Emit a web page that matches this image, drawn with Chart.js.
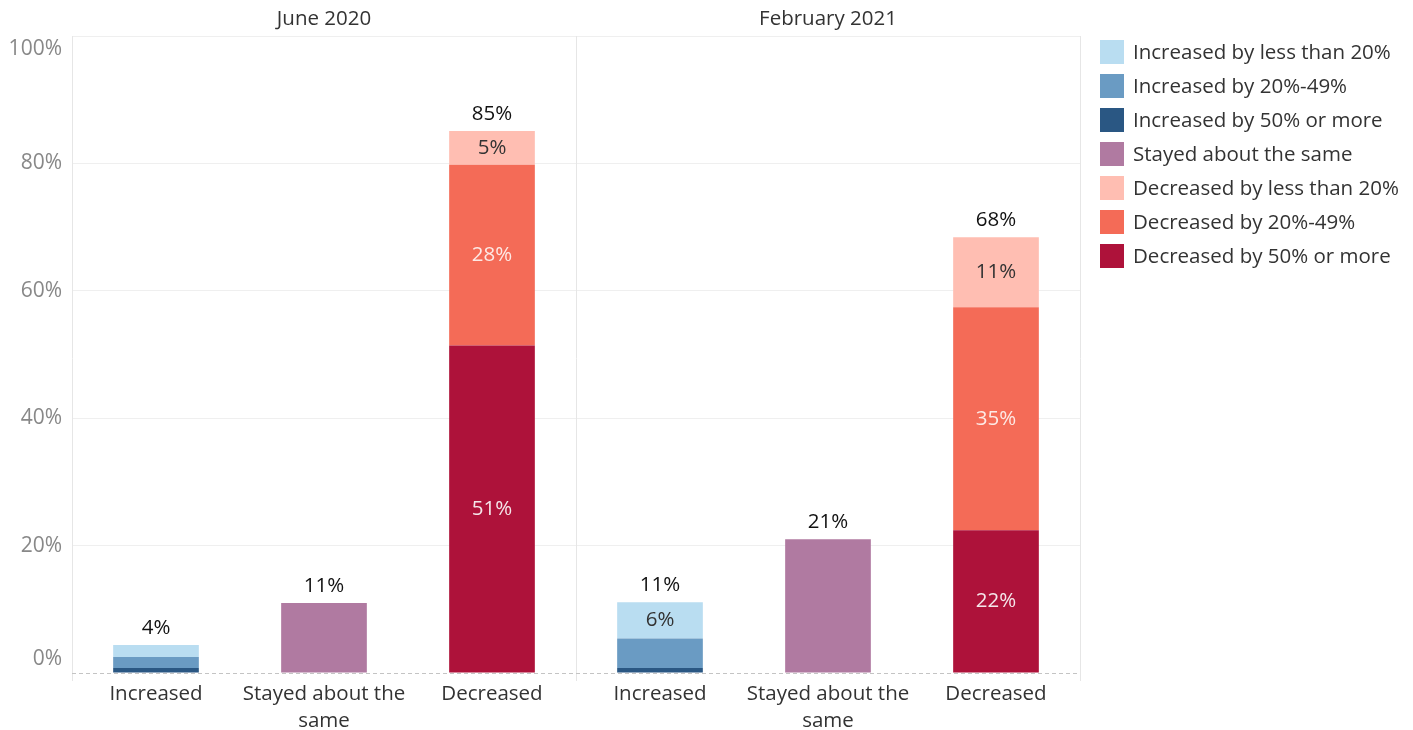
<!DOCTYPE html>
<html>
<head>
<meta charset="utf-8">
<script src="https://cdn.jsdelivr.net/npm/chart.js@4.4.0/dist/chart.umd.min.js"></script>
<style>
  html, body { margin: 0; padding: 0; background: #fff; }
  #wrap { width: 1413px; height: 730px; }
</style>
</head>
<body>
<div id="wrap"><canvas id="grafica" width="1413" height="730"></canvas></div>
<script>
// datos
const periodos = ['June 2020', 'February 2021'];
const categorias = ['Increased', ['Stayed about the', 'same'], 'Decreased',
                    'Increased', ['Stayed about the', 'same'], 'Decreased'];
const yTicks = [0, 20, 40, 60, 80, 100];

const inc50     = [0.8, null, null, 0.8, null, null];
const inc20a49  = [1.7, null, null, 4.6, null, null];
const incMen20  = [1.9, null, null, 5.7, null, null];
const igual     = [null, 11.0, null, null, 21.0, null];
const dec50     = [null, null, 51.4, null, null, 22.4];
const dec20a49  = [null, null, 28.4, null, null, 35.0];
const decMen20  = [null, null, 5.3, null, null, 11.0];

const FONT = '"Open Sans", Lato, sans-serif';

// orden de apilado (abajo -> arriba)
const series = [
    { label: 'Increased by 50% or more',    data: inc50,    color: '#2a5783', txt: '#ffffff' },
    { label: 'Increased by 20%-49%',        data: inc20a49, color: '#6a9bc3', txt: '#ffffff' },
    { label: 'Increased by less than 20%',  data: incMen20, color: '#b9ddf1', txt: '#333333' },
    { label: 'Stayed about the same',       data: igual,    color: '#b07aa1', txt: '#ffffff' },
    { label: 'Decreased by 50% or more',    data: dec50,    color: '#ae123a', txt: '#f5e6ea' },
    { label: 'Decreased by 20%-49%',        data: dec20a49, color: '#f46b57', txt: '#fde9e5' },
    { label: 'Decreased by less than 20%',  data: decMen20, color: '#ffbeb2', txt: '#333333' }
];
// orden de la leyenda
const ordenLeyenda = [2, 1, 0, 3, 6, 5, 4];

const panelPlugin = {
    id: 'paneles',
    afterDraw(chart) {
        const { ctx, chartArea: a, scales: { x, y } } = chart;
        ctx.save();

        // lineas de panel
        ctx.strokeStyle = '#e6e6e6';
        ctx.lineWidth = 1;
        const mid = (x.getPixelForValue(2) + x.getPixelForValue(3)) / 2;
        [a.left, mid, a.right].forEach(px => {
            ctx.beginPath();
            ctx.moveTo(Math.round(px) + 0.5, a.top);
            ctx.lineTo(Math.round(px) + 0.5, a.bottom + 8);
            ctx.stroke();
        });

        // linea cero punteada
        ctx.strokeStyle = '#c4c4c4';
        ctx.setLineDash([4, 3]);
        const y0 = Math.round(y.getPixelForValue(0)) + 0.5;
        ctx.beginPath();
        ctx.moveTo(a.left, y0);
        ctx.lineTo(a.right, y0);
        ctx.stroke();
        ctx.setLineDash([]);

        // etiquetas eje y
        ctx.font = '21px ' + FONT;
        ctx.fillStyle = '#888888';
        ctx.textAlign = 'right';
        ctx.textBaseline = 'middle';
        yTicks.forEach(v => {
            let py = y.getPixelForValue(v);
            if (v === 100) py += 13;
            if (v === 0) py -= 14;
            ctx.fillText(v + '%', a.left - 10, py);
        });

        // encabezados
        ctx.font = '20.5px ' + FONT;
        ctx.fillStyle = '#333333';
        ctx.textAlign = 'center';
        periodos.forEach((p, i) => {
            ctx.fillText(p, x.getPixelForValue(i * 3 + 1), 19);
        });

        // leyenda
        ctx.font = '20.5px ' + FONT;
        ctx.textAlign = 'left';
        ordenLeyenda.forEach((si, i) => {
            const s = series[si];
            const ly = 40 + i * 34;
            ctx.fillStyle = s.color;
            ctx.fillRect(a.right + 20, ly, 24, 24);
            ctx.fillStyle = '#333333';
            ctx.fillText(s.label, a.right + 53, ly + 13);
        });
        ctx.restore();
    },
    afterDatasetsDraw(chart) {
        const { ctx } = chart;
        ctx.save();
        ctx.font = '20.5px ' + FONT;
        ctx.textAlign = 'center';
        ctx.textBaseline = 'middle';
        const topes = {};
        chart.data.datasets.forEach((ds, di) => {
            const meta = chart.getDatasetMeta(di);
            meta.data.forEach((bar, i) => {
                const v = ds.data[i];
                if (v == null) return;
                if (v >= 5 && di !== 3) {
                    ctx.fillStyle = series[di].txt;
                    ctx.fillText(Math.round(v) + '%', bar.x, (bar.y + bar.base) / 2);
                }
                if (!topes[i] || bar.y < topes[i].y) topes[i] = { y: bar.y, x: bar.x };
            });
        });
        // totales
        const totales = {};
        chart.data.datasets.forEach(ds => ds.data.forEach((v, i) => {
            if (v != null) totales[i] = (totales[i] || 0) + v;
        }));
        ctx.fillStyle = '#111111';
        Object.keys(topes).forEach(i => {
            ctx.fillText(Math.round(totales[i]) + '%', topes[i].x, topes[i].y - 17);
        });
        ctx.restore();
    }
};

const chart = new Chart(document.getElementById('grafica').getContext('2d'), {
    type: 'bar',
    data: {
        labels: categorias,
        datasets: series.map(s => ({
            label: s.label,
            data: s.data,
            backgroundColor: s.color,
            borderWidth: 0,
            barPercentage: 0.51,
            categoryPercentage: 1
        }))
    },
    options: {
        responsive: false,
        animation: false,
        layout: { padding: { top: 36, right: 333, left: 0, bottom: 0 } },
        plugins: { legend: { display: false }, tooltip: { enabled: false } },
        scales: {
            x: {
                stacked: true,
                grid: { display: false },
                border: { display: false },
                ticks: {
                    color: '#333333',
                    font: { family: FONT, size: 20.5, lineHeight: 1.32 },
                    padding: 0,
                    maxRotation: 0,
                    autoSkip: false
                },
                afterFit(scale) { scale.height = 57; }
            },
            y: {
                stacked: true,
                min: 0,
                max: 100,
                grid: {
                    color: ctx => ctx.tick.value === 0 ? 'rgba(0,0,0,0)' : '#efefef',
                    drawTicks: false
                },
                border: { display: false },
                ticks: {
                    stepSize: 20,
                    color: 'rgba(0,0,0,0)',
                    font: { family: FONT, size: 18 },
                    callback: v => v + '%'
                },
                afterFit(scale) { scale.width = 72; }
            }
        }
    },
    plugins: [panelPlugin]
});
</script>
</body>
</html>
